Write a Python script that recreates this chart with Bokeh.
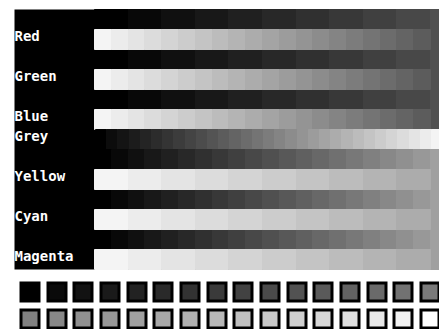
import numpy as np
from bokeh.plotting import figure
from bokeh.models import Range1d
from bokeh.core.properties import value
from bokeh.embed import file_html
from bokeh.resources import INLINE

# ---- data (grey levels 0-255) ----
labels = ["Red", "Green", "Blue", "Grey", "Yellow", "Cyan", "Magenta"]
label_rows = [1, 3, 5, 6, 8, 10, 12]

upper_light = [244, 236, 228, 220, 212, 204, 196, 188, 180, 172,
               164, 156, 148, 140, 132, 124, 116, 108, 100, 92]
upper_dark = [0, 8, 16, 24, 32, 40, 48, 56, 64, 72, 80]
grey_ramp = [0, 12, 20, 28, 36, 44, 52, 60, 68, 76, 84, 92, 100, 108, 116,
             124, 132, 140, 148, 156, 164, 172, 180, 188, 196, 204, 212,
             220, 228, 236, 244]
lower_dark = [0, 8, 16, 24, 32, 40, 48, 56, 64, 72, 80, 88, 96, 104, 112,
              120, 128, 136, 144, 152, 160]
lower_light = [244, 236, 228, 220, 212, 204, 196, 188, 180, 172]
swatch_row1 = [0, 10, 18, 26, 34, 42, 50, 58, 66, 74, 82, 90, 98, 106, 114, 122]
swatch_row2 = [128, 136, 144, 152, 160, 168, 176, 184, 192, 200, 208, 216,
               224, 232, 242, 255]

# ---- layout constants ----
W, H = 439, 329
LEFT, RIGHT = 14, 439
TOP, ROW_H = 9, 20
X0 = 94
FINE, COARSE, GSTEP = 16.8, 33.6, 11.2


def hexg(v):
    return "#%02x%02x%02x" % (v, v, v)


p = figure(width=W, height=H, x_range=Range1d(0, W), y_range=Range1d(H, 0),
           output_backend="svg", toolbar_location=None, min_border=0,
           x_axis_location=None, y_axis_location=None)
p.grid.visible = False
p.outline_line_color = None
p.background_fill_color = "white"
p.border_fill_color = "white"


def row_top(r):
    return TOP + ROW_H * r


# black panel
p.quad(left=[LEFT], right=[RIGHT + 5], top=[row_top(0)], bottom=[row_top(13)],
       fill_color="black", line_color=None)


def stripes(vals, step, start, top, bottom):
    idx = np.arange(len(vals))
    left = np.round(start + step * idx)
    right = np.round(start + step * (idx + 1))
    cols = [hexg(v) for v in vals]
    p.quad(left=left, right=right, top=[top] * len(vals), bottom=[bottom] * len(vals),
           fill_color=cols, line_color=cols, line_width=1)


# upper half: coarse dark background, fine light bars
stripes(upper_dark, COARSE, X0, row_top(0), row_top(6))
for r in [1, 3, 5]:
    stripes(upper_light, FINE, X0, row_top(r), row_top(r + 1))

# grey ramp row
stripes(grey_ramp, GSTEP, X0 + 1, row_top(6), row_top(7))

# lower half: fine dark background, coarse light bars
stripes(lower_dark, FINE, X0, row_top(7), row_top(13))
for r in [8, 10, 12]:
    stripes(lower_light, COARSE, X0, row_top(r), row_top(r + 1))

# labels
p.text(x=[LEFT] * len(labels), y=[row_top(r) + 6 for r in label_rows], text=labels,
       text_color="white", text_font=value("DejaVu Sans Mono"), text_font_style="bold",
       text_font_size="14px", text_baseline="alphabetic", text_align="left")

# swatches
SW_X0, SW_STEP = 19, 26.667
for vals, yc in [(swatch_row1, 291.5), (swatch_row2, 318.5)]:
    idx = np.arange(len(vals))
    xs = np.round(SW_X0 + SW_STEP * idx) + 10.5
    p.rect(x=xs, y=[yc] * len(vals), width=18, height=18,
           fill_color=[hexg(v) for v in vals], line_color="black", line_width=3,
           line_join="miter")

open("out.html", "w").write(file_html(p, INLINE))
